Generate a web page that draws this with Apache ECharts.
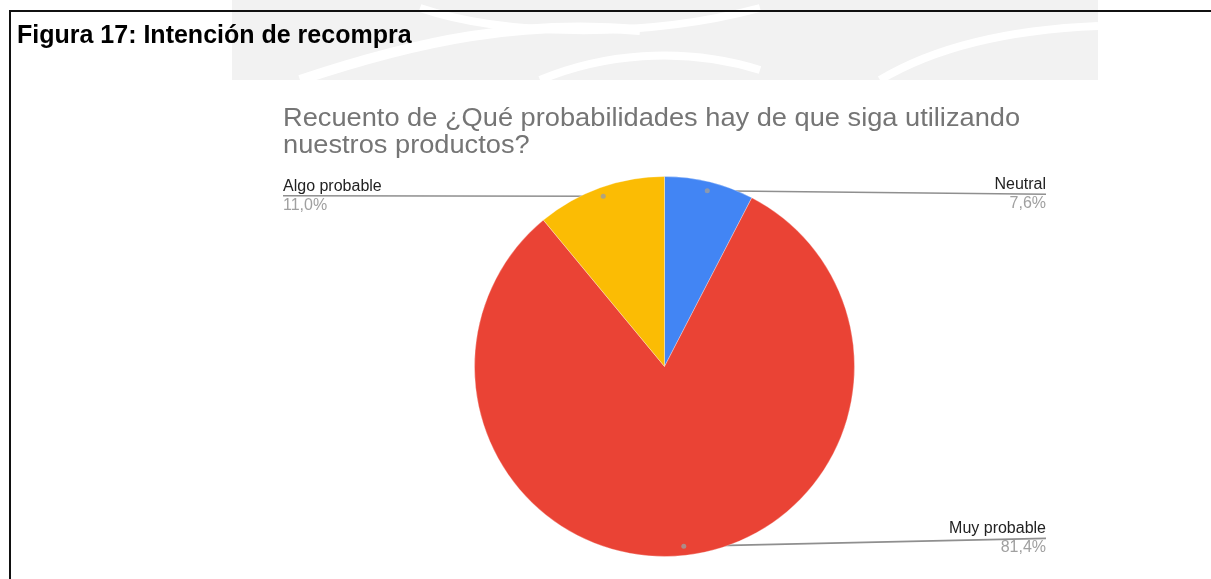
<!DOCTYPE html>
<html><head><meta charset="utf-8">
<script src="https://cdn.jsdelivr.net/npm/echarts@6/dist/echarts.min.js"></script>
<style>html,body{margin:0;padding:0;background:#fff}#c{width:1211px;height:579px}</style>
</head><body><div id="c"></div>
<script>
// ---- data ----
const categories = ['Neutral', 'Muy probable', 'Algo probable'];
const percentages = [7.6, 81.4, 11.0];
const sliceColors = ['#4285F4', '#EA4335', '#FBBC04'];
const figureTitle = 'Figura 17: Intención de recompra';
const chartTitle = 'Recuento de ¿Qué probabilidades hay de que siga utilizando\nnuestros productos?';

// ---- layout ----
const W = 1211;
const CX = 664.5, CY = 366.5, R = 190;
const DOT_RATIO = 0.952;
const BOX_LEFT = 283, BOX_RIGHT = W - 1046;
const FONT = 'Liberation Sans, Arial, sans-serif';
const LABEL_DY = { 'Neutral': 3.5, 'Muy probable': -8, 'Algo probable': -0.5 };

const pieData = categories.map((n, i) => ({ name: n, value: percentages[i], itemStyle: { color: sliceColors[i] } }));
const labelData = categories.map((n, i) => ({ name: n, value: percentages[i] }));
let cum = 0;
const total = percentages.reduce((a, b) => a + b, 0);
const mids = percentages.map(v => { const m = cum + v / 2; cum += v; return m / total * 100; });

const fmtPct = v => v.toFixed(1).replace('.', ',') + '%';

function curve(x1, y1, c1x, c1y, c2x, c2y, x2, y2, w) {
  return { type: 'bezierCurve', z: -9, silent: true,
    shape: { x1: x1, y1: y1, cpx1: c1x, cpy1: c1y, cpx2: c2x, cpy2: c2y, x2: x2, y2: y2 },
    style: { fill: null, stroke: '#ffffff', lineWidth: w } };
}

const chart = echarts.init(document.getElementById('c'));
chart.setOption({
  backgroundColor: '#fff',
  animation: false,
  textStyle: { fontFamily: FONT },
  graphic: [
    { type: 'rect', z: -10, silent: true, shape: { x: 232, y: 0, width: 866, height: 80 }, style: { fill: '#f2f2f2' } },
    curve(300, 80, 420, 40, 520, 20, 640, 30, 10),
    curve(540, 80, 600, 55, 680, 45, 760, 70, 8),
    curve(420, 8, 500, 35, 640, 40, 760, 8, 8),
    curve(880, 80, 930, 50, 1000, 30, 1098, 26, 8),
    { type: 'rect', z: 100, silent: true, shape: { x: 10, y: 11, width: 1230, height: 620 }, style: { fill: null, stroke: '#111', lineWidth: 2 } },
    { type: 'text', z: 50, silent: true, x: 283, y: 106, scaleX: 1.089, scaleY: 1,
      style: { text: chartTitle, font: 'normal 25px ' + FONT, fill: '#757575', lineHeight: 26.5 } }
  ],
  title: [
    { text: figureTitle, left: 17, top: 24, padding: 0, textStyle: { fontFamily: FONT, fontWeight: 'bold', fontSize: 25, color: '#000' } }
  ],
  polar: { center: [CX, CY], radius: R },
  angleAxis: { type: 'value', min: 0, max: 100, startAngle: 90, clockwise: true, show: false },
  radiusAxis: { type: 'value', min: 0, max: 1, show: false },
  series: [
    {
      type: 'pie', silent: true, left: BOX_LEFT, right: BOX_RIGHT, top: 0, bottom: 0,
      center: [CX - BOX_LEFT, CY], radius: R, startAngle: 90, clockwise: true,
      label: { show: false }, labelLine: { show: false },
      itemStyle: { borderColor: 'rgba(255,255,255,0.6)', borderWidth: 0.5 },
      data: pieData
    },
    {
      type: 'pie', silent: true, left: BOX_LEFT, right: BOX_RIGHT, top: 0, bottom: 0,
      center: [CX - BOX_LEFT, CY], radius: R * DOT_RATIO, startAngle: 90, clockwise: true,
      itemStyle: { color: 'rgba(0,0,0,0)' },
      label: {
        show: true, position: 'outside', alignTo: 'edge', edgeDistance: 0,
        formatter: p => '{n|' + p.name + '}\n{p|' + fmtPct(p.value) + '}',
        rich: {
          n: { fontFamily: FONT, fontSize: 16, lineHeight: 19, color: '#222' },
          p: { fontFamily: FONT, fontSize: 16, lineHeight: 19, color: '#a0a0a0' }
        }
      },
      labelLine: { show: true, length: 0, length2: 10, lineStyle: { color: '#8f8f8f', width: 1.6 } },
      labelLayout: function (params) {
        const pts = params.labelLinePoints;
        if (!pts) return {};
        const dy = LABEL_DY[params.text ? params.text.replace(/^\{n\|([^}]*)\}[\s\S]*$/, '$1') : ''] || 0;
        const r = params.labelRect;
        const np = pts.map(p => [p[0], p[1]]);
        const last = np[np.length - 1];
        if (r.x + r.width / 2 > CX) last[0] = r.x + r.width; else last[0] = r.x;
        last[1] += dy;
        return { dy: dy, labelLinePoints: np };
      },
      data: labelData
    },
    {
      type: 'scatter', coordinateSystem: 'polar', silent: true, symbolSize: 5,
      itemStyle: { color: '#9e9e9e' }, z: 5,
      data: mids.map(m => [DOT_RATIO, m])
    }
  ]
});
</script>
</body></html>
